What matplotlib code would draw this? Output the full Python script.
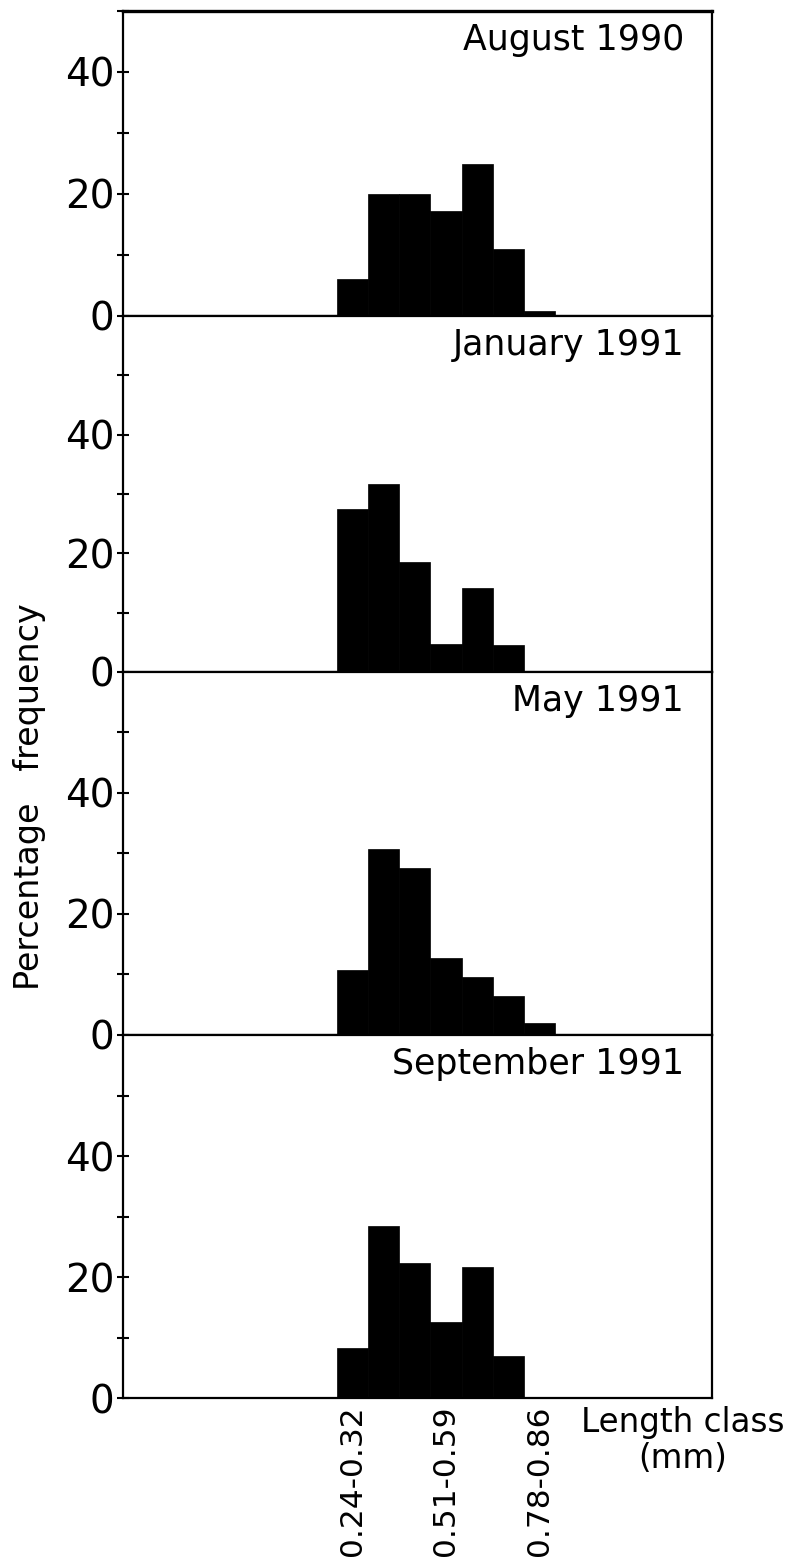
import matplotlib
matplotlib.use("Agg")
import matplotlib.pyplot as plt
import numpy as np

# classes de longueur (mm)
length_classes = ["0.24-0.32", "0.33-0.41", "0.42-0.50", "0.51-0.59",
                  "0.60-0.68", "0.69-0.77", "0.78-0.86"]

# fréquences en pourcentage
aug_1990 = [6.0, 20.0, 20.0, 17.2, 24.9, 10.9, 0.8]
jan_1991 = [27.4, 31.6, 18.6, 4.7, 14.1, 4.6, 0.0]
may_1991 = [10.7, 30.7, 27.6, 12.7, 9.6, 6.4, 2.0]
sep_1991 = [8.3, 28.4, 22.3, 12.6, 21.7, 7.0, 0.0]

titles = ["August 1990", "January 1991", "May 1991", "September 1991"]
series = [aug_1990, jan_1991, may_1991, sep_1991]
y_max = [50, 60, 60, 60]
y_major = [0, 20, 40]
y_minor = [10, 30, 50]

plt.rcParams['font.family'] = ['DejaVu Sans']

fig = plt.figure(figsize=(7.87, 15.6), dpi=100)
gs = fig.add_gridspec(4, 1, height_ratios=[305, 356, 363, 363], hspace=0,
                      left=0.156, right=0.905, top=0.9931, bottom=0.1038)

x = np.arange(len(length_classes))
for i, (titre, valeurs) in enumerate(zip(titles, series)):
    ax = fig.add_subplot(gs[i])
    ax.bar(x, valeurs, width=1.0, align='center', color='black',
           edgecolor='black', linewidth=0.5)
    ax.set_xlim(-7.38, 11.55)
    ax.set_ylim(0, y_max[i])
    ax.set_yticks(y_major)
    ax.set_yticks(y_minor, minor=True)
    ax.tick_params(axis='y', which='both', direction='inout', length=8,
                   width=1.5, labelsize=28, pad=2)
    for s in ax.spines.values():
        s.set_linewidth(1.6)
    if i == 0:
        ax.spines['top'].set_linewidth(2.4)
    ax.annotate(titre, xy=(1, 1), xycoords='axes fraction',
                xytext=(-28, -12), textcoords='offset pixels',
                ha='right', va='top', fontsize=25)
    if i < 3:
        ax.set_xticks([])
    else:
        ax.set_xticks(x[::3])
        ax.set_xticklabels(length_classes[::3], rotation=90, fontsize=22.5)
        ax.tick_params(axis='x', length=0, pad=5)

fig.text(683 / 787, 1 - 1406 / 1560, "Length class\n(mm)", ha='center', va='top',
         fontsize=23.5, linespacing=1.1)
fig.text(30 / 787, 1 - 797 / 1560, "Percentage   frequency", rotation=90,
         ha='center', va='center', fontsize=24)

fig.savefig("out.png", dpi=100, facecolor='white')
